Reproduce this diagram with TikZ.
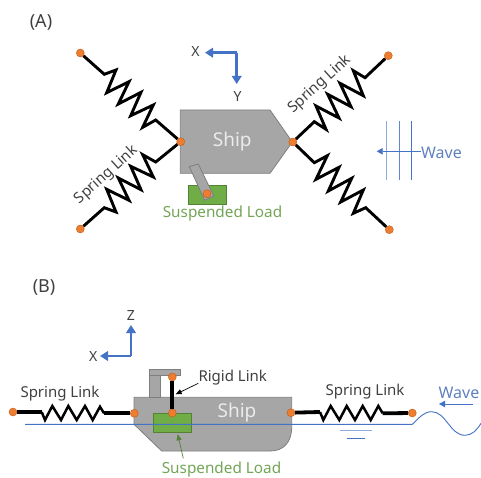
\documentclass[tikz,border=0pt]{standalone}
\usepackage{fontspec}
\setmainfont{Noto Sans}
\usetikzlibrary{arrows.meta}
\definecolor{hullgray}{HTML}{A6A6A6}
\definecolor{hulledge}{HTML}{7F7F7F}
\definecolor{jointfill}{HTML}{ED7D31}
\definecolor{jointedge}{HTML}{C55A11}
\definecolor{loadfill}{HTML}{70AD47}
\definecolor{loadedge}{HTML}{548235}
\definecolor{axisblue}{HTML}{4472C4}
\definecolor{wavetext}{HTML}{5F80C0}
\definecolor{loadtext}{HTML}{73A556}
\definecolor{labelgray}{HTML}{404040}
\tikzset{
  joint/.style={circle,draw=jointedge,fill=jointfill,line width=0.4pt,minimum size=8pt,inner sep=0pt},
  spring/.style={black,line width=2.9pt,line join=miter},
  springthin/.style={black,line width=2.5pt,line join=miter},
  springthick/.style={black,line width=3.8pt},
  hull/.style={draw=hulledge,fill=hullgray,line width=0.8pt},
  load/.style={draw=loadedge,fill=loadfill,line width=0.8pt},
  axis/.style={axisblue,line width=2.6pt,-{Triangle[length=8pt,width=9.5pt]}},
  waveline/.style={axisblue,line width=0.9pt},
  wavearrow/.style={axisblue,line width=0.8pt,-{Triangle[length=6pt,width=6.5pt]}},
  tag/.style={text=labelgray,font=\fontsize{15}{15}\selectfont,inner sep=0pt},
  axisname/.style={text=labelgray,font=\fontsize{14}{14}\selectfont,inner sep=0pt},
  panelname/.style={text=labelgray,font=\fontsize{18}{18}\selectfont,inner sep=0pt},
  shipname/.style={text=white!92!black,font=\fontsize{19}{19}\selectfont,inner sep=0pt},
  loadname/.style={text=loadtext,font=\fontsize{15.3}{15}\selectfont,inner sep=0pt},
  wavename/.style={text=wavetext,font=\fontsize{16}{16}\selectfont,inner sep=0pt},
}
\begin{document}
\begin{tikzpicture}[x=1pt,y=-1pt]
  \useasboundingbox (0,0) rectangle (481,478);
  % panel A
  \node (tagA) [panelname] at (41,22) {(A)};
  \draw [hull] (180.3,110) -- (270,110) -- (292.3,142) -- (270,173.3) -- (180.3,173.3) -- cycle;
  \node (shipA) [shipname] at (232.3,141.5) {Ship};
  \draw [load] (188.3,185.3) rectangle (226.7,204);
  \draw [hull] (189.3,166.7) -- (198.3,164) -- (213.7,196) -- (204.7,200.3) -- cycle;
  \node (craneA) [joint] at (207,193.7) {};
  \node (portL) [joint] at (180.7,141.7) {};
  \node (portR) [joint] at (292.8,142) {};
  \node (pinTL) [joint] at (80.3,53) {};
  \node (pinBL) [joint] at (80.3,229) {};
  \node (pinTR) [joint] at (388.3,55.7) {};
  \node (pinBR) [joint] at (389.3,229.7) {};
  \draw [spring] (pinTL) -- (104.3,74.3) -- (116,70) -- (106.7,92.7) -- (129,81.7) -- (118.3,104) -- (141,92.3)
    -- (130.7,115.7) -- (153.3,105) -- (142.7,127.3) -- (155.7,120) -- (portL);
  \draw [spring] (pinBL) -- (104.3,207.7) -- (116,212) -- (106.7,189.3) -- (129,200.3) -- (118.3,178) -- (141,189.7)
    -- (130.7,166.3) -- (153.3,177) -- (142.7,154.7) -- (155.7,162) -- (portL);
  \draw [spring] (portR) -- (314.3,121.7) -- (326,129.3) -- (316,106) -- (339,118) -- (327.7,94.3) -- (351,106.7)
    -- (340,83.3) -- (363.3,95.7) -- (353.3,70.7) -- (365,77.7) -- (pinTR);
  \draw [spring] (portR) -- (314.3,162.7) -- (327.3,155.7) -- (316,179.3) -- (339,167.3) -- (328.3,191) -- (351.7,178.3)
    -- (340.7,202) -- (363.3,190) -- (353.3,213.3) -- (365.7,207.7) -- (pinBR);
  \node (linkL) [tag,rotate=42] at (106.7,175) {Spring Link};
  \node (linkR) [tag,rotate=42] at (320,84.3) {Spring Link};
  \node (loadA) [loadname] at (222.5,214) {Suspended Load};
  % axes A
  \coordinate (axisA) at (236.7,52.7);
  \coordinate (axisAx) at (205,52.7);
  \coordinate (axisAy) at (236.7,84);
  \draw [axis] (axisA) -- (axisAx);
  \draw [axis] (axisA) -- (axisAy);
  \node (labAx) [axisname] at (195.5,51.5) {X};
  \node (labAy) [axisname] at (237.7,96.5) {Y};
  % wave A
  \draw [waveline,color=axisblue!60] (386.7,121) -- (386.7,180);
  \draw [waveline,color=axisblue!85] (399,121) -- (399,180);
  \draw [waveline] (411.3,121) -- (411.3,180);
  \node (waveA) [wavename] at (441.5,152.5) {Wave};
  \coordinate (waveAtip) at (376.7,151.3);
  \draw [wavearrow] (waveA.west |- waveAtip) -- (waveAtip);
  % panel B
  \node (tagB) [panelname] at (44,287) {(B)};
  \draw [hull] (134,397.3) -- (291.7,397.3) -- (291.7,426.7) .. controls (291.7,442) and (284,451) .. (270,451)
    -- (161.7,451) -- (134,424.3) -- cycle;
  \draw [hull] (149.7,375) rectangle (160.7,397.3);
  \draw [hull] (149.7,369) rectangle (180.3,375);
  \draw [load,line width=1pt] (153,413.7) rectangle (191.7,432.3);
  \node (shipB) [shipname] at (237,413) {Ship};
  \coordinate (seaL) at (25,424.3);
  \coordinate (seaR) at (412.3,424.3);
  \draw [waveline] (seaL) -- (seaR)
    .. controls (420,417) and (424,411.7) .. (431.7,411.7)
    .. controls (446,411.7) and (450,435.3) .. (465,435.3)
    .. controls (472,435.3) and (477,430) .. (481,423.3);
  \node (craneTop) [joint] at (172.3,377) {};
  \node (craneBot) [joint] at (172.3,413) {};
  \draw [black,line width=3.8pt] (craneTop) -- (craneBot);
  \node (pinLL) [joint] at (13,412) {};
  \node (portLL) [joint] at (134.3,413.3) {};
  \node (portRR) [joint] at (291,412.7) {};
  \node (pinRR) [joint] at (412.3,413) {};
  \coordinate (zigLa) at (41.7,412);
  \coordinate (zigLb) at (104,413.3);
  \coordinate (zigRa) at (320,412);
  \coordinate (zigRb) at (382.7,413.3);
  \draw [springthick] (pinLL) -- (zigLa);
  \draw [springthick] (zigLb) -- (portLL);
  \draw [springthin] (zigLa) -- (45,420) -- (52.3,406) -- (61,420) -- (68.3,406) -- (76.7,420) -- (85,406) -- (92.7,420) -- (100,406.7) -- (zigLb);
  \draw [springthick] (portRR) -- (zigRa);
  \draw [springthick] (zigRb) -- (pinRR);
  \draw [springthin] (zigRa) -- (323.3,420) -- (330.7,406) -- (339.3,420) -- (346.7,406) -- (355,420) -- (362.7,406) -- (370.7,420) -- (378.3,406) -- (zigRb);
  \node (linkLL) [tag] at (60,393.5) {Spring Link};
  \node (linkRR) [tag] at (365,392) {Spring Link};
  \node (rigid) [tag,anchor=west] at (198.3,377.7) {Rigid Link};
  \coordinate (rigidTip) at (175.7,394.3);
  \draw [black,line width=0.7pt,-{Triangle[length=6pt,width=5pt]}] (198.3,383.3) -- (rigidTip);
  \node (loadB) [loadname] at (221.5,469.5) {Suspended Load};
  \coordinate (loadTip) at (177.7,434.3);
  \draw [loadedge,line width=0.7pt,-{Triangle[length=6pt,width=5pt]}] (183.3,458.3) -- (loadTip);
  % sea marks
  \draw [waveline,color=axisblue!60] (340,430.7) -- (371.7,430.7);
  \draw [waveline] (347.3,438.3) -- (365.3,438.3);
  \node (waveB) [wavename] at (459,392.8) {Wave};
  \coordinate (waveBtail) at (473.3,404);
  \coordinate (waveBtip) at (439,404);
  \draw [wavearrow] (waveBtail) -- (waveBtip);
  % axes B
  \coordinate (axisB) at (131,356);
  \coordinate (axisBz) at (131,325);
  \coordinate (axisBx) at (100,356);
  \draw [axis] (axisB) -- (axisBz);
  \draw [axis] (axisB) -- (axisBx);
  \node (labBz) [axisname] at (131,315) {Z};
  \node (labBx) [axisname] at (93.3,356) {X};
\end{tikzpicture}
\end{document}
